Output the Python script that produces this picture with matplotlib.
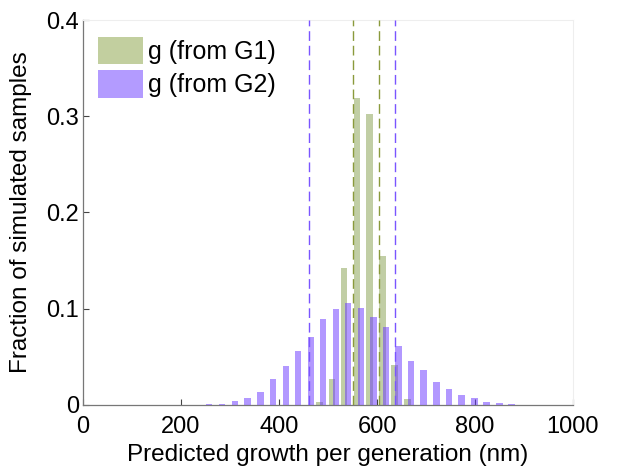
import numpy as np
import matplotlib
matplotlib.use("Agg")
import matplotlib.pyplot as plt
from matplotlib.patches import Patch

plt.rcParams['font.family'] = ['Liberation Sans', 'DejaVu Sans']

# -------------------
# DATA
# -------------------
g2_centers = [257, 284, 310, 336, 362, 388, 414, 439, 465, 490, 516, 541, 567,
              593, 618, 644, 669, 695, 721, 747, 773, 799, 824, 850, 875, 901, 927]
g2_frac = [0.0007, 0.0014, 0.004, 0.007, 0.013, 0.027, 0.040, 0.056, 0.071,
           0.089, 0.100, 0.106, 0.101, 0.091, 0.081, 0.061, 0.046, 0.036,
           0.024, 0.017, 0.010, 0.007, 0.003, 0.002, 0.001, 0.0005, 0.0003]

g1_centers = [482, 508, 533, 559, 585, 611, 636, 662]
g1_frac = [0.003, 0.027, 0.142, 0.319, 0.302, 0.155, 0.042, 0.006]

g1_ci = [552, 604]
g2_ci = [461, 637]

labels = ['g (from G1)', 'g (from G2)']
xticks = [0, 200, 400, 600, 800, 1000]
yticks = [0, 0.1, 0.2, 0.3, 0.4]

GREEN = '#c2cf9f'
PURPLE = '#b39bff'
GREEN_LINE = '#8a9a3c'
PURPLE_LINE = '#7a55ff'
BAR_W = 13.5

# -------------------
# PLOT
# -------------------
fig = plt.figure(figsize=(6.21, 4.73), dpi=100)
ax = fig.add_axes([0.1337, 0.1438, 0.789, 0.8139])

ax.bar(g1_centers, g1_frac, width=BAR_W, color='#859f4d', alpha=0.5,
       edgecolor='none', zorder=2)
ax.bar(g2_centers, g2_frac, width=BAR_W, color='#6633ff', alpha=0.5,
       edgecolor='none', zorder=3)

for xv in g1_ci:
    ax.axvline(xv, color=GREEN_LINE, ls=(0, (7, 3.5)), lw=1.0, zorder=4)
for xv in g2_ci:
    ax.axvline(xv, color=PURPLE_LINE, ls=(0, (7, 3.5)), lw=1.0, zorder=4)

ax.set_xlim(0, 1000)
ax.set_ylim(0, 0.4)
ax.set_xticks(xticks)
ax.set_yticks(yticks)
ax.set_xticklabels([str(t) for t in xticks])
ax.set_yticklabels(['0', '0.1', '0.2', '0.3', '0.4'])
ax.tick_params(direction='in', length=4, width=0.8, labelsize=17, color='#444444')
ax.tick_params(axis='x', pad=8)
ax.tick_params(axis='y', pad=3)

for side in ['left', 'bottom']:
    ax.spines[side].set_color('#777777')
    ax.spines[side].set_linewidth(0.9)
for side in ['top', 'right']:
    ax.spines[side].set_color('#eeeeee')
    ax.spines[side].set_linewidth(0.8)

ax.set_xlabel('Predicted growth per generation (nm)', fontsize=17.5, labelpad=4)
ax.set_ylabel('Fraction of simulated samples', fontsize=17.5, labelpad=10)

handles = [Patch(facecolor=GREEN, edgecolor='none'),
           Patch(facecolor=PURPLE, edgecolor='none')]
ax.legend(handles, labels, loc='upper left', frameon=False, fontsize=18,
          handlelength=1.8, handleheight=1.3, handletextpad=0.2,
          labelspacing=0.25, borderaxespad=0.2, bbox_to_anchor=(0.0, 0.995))

fig.savefig('out.png', dpi=100)
